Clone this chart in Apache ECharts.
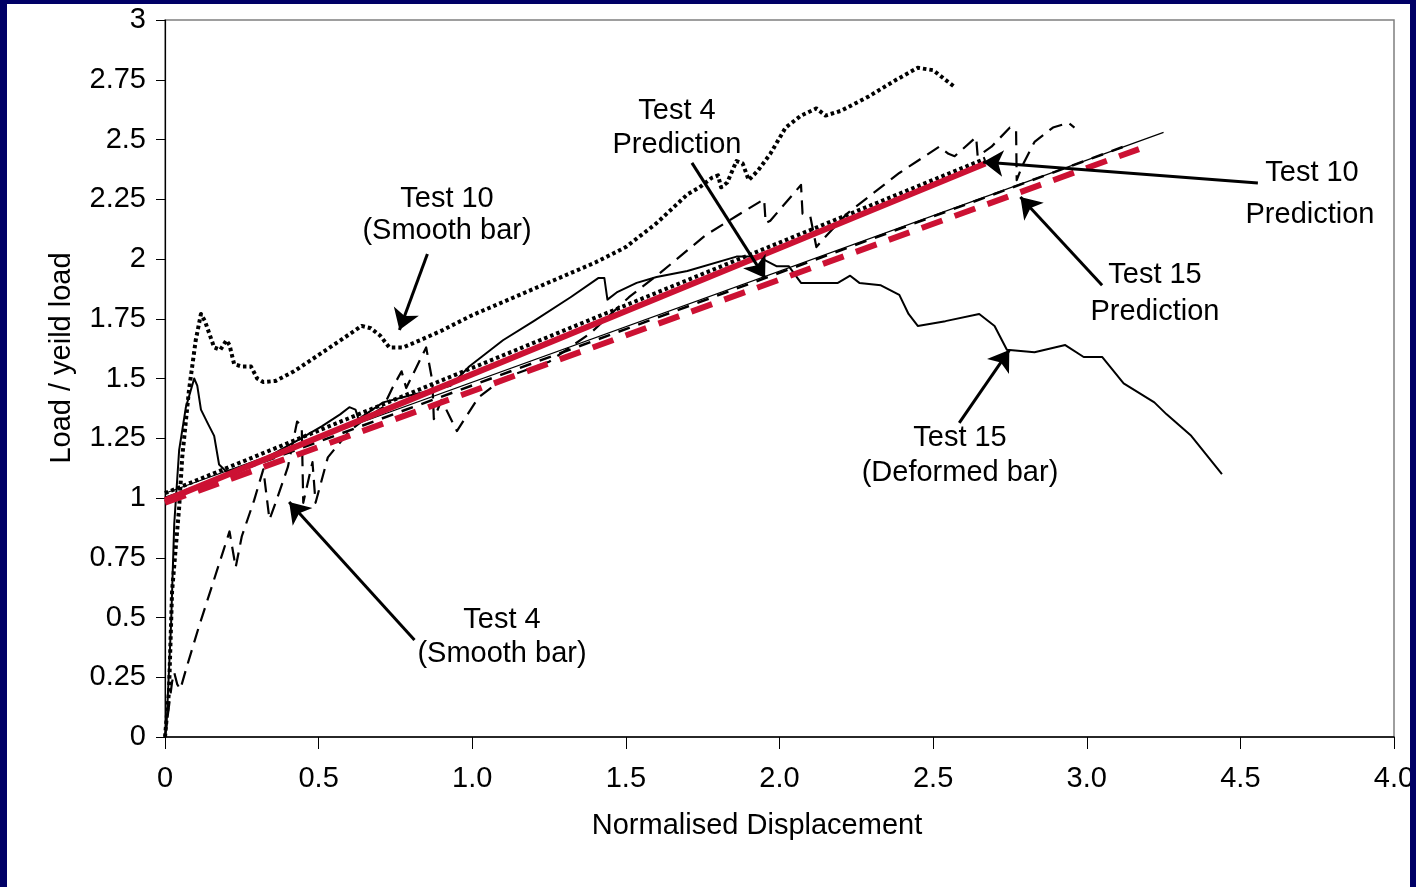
<!DOCTYPE html>
<html>
<head>
<meta charset="utf-8">
<script src="https://cdn.jsdelivr.net/npm/echarts@6/dist/echarts.min.js"></script>
<style>
  html, body { margin: 0; padding: 0; background: #000066; width: 1416px; height: 887px; overflow: hidden; }
  #chart { position: absolute; left: 7px; top: 4px; width: 1403px; height: 883px; background: #ffffff; }
</style>
</head>
<body>
<div id="chart"></div>
<script>
// ---------- data ----------
const xTickLabels = ['0', '0.5', '1.0', '1.5', '2.0', '2.5', '3.0', '4.5', '4.0'];

// Test 10 (Smooth bar) – experimental, dotted
const test10 = [[0,0],[0.013,0.19],[0.023,0.61],[0.046,0.96],[0.056,1.17],[0.078,1.45],[0.1,1.66],[0.117,1.77],[0.13,1.74],
  [0.16,1.63],[0.18,1.62],[0.2,1.66],[0.21,1.64],[0.225,1.56],[0.25,1.55],[0.28,1.55],[0.3,1.5],[0.32,1.485],[0.36,1.49],
  [0.42,1.53],[0.49,1.59],[0.56,1.65],[0.64,1.72],[0.67,1.71],[0.7,1.68],[0.73,1.63],[0.775,1.63],[0.83,1.66],[0.9,1.7],
  [1.0,1.765],[1.2,1.875],[1.4,1.985],[1.5,2.05],[1.6,2.15],[1.7,2.27],[1.74,2.3],[1.78,2.34],[1.8,2.35],[1.81,2.3],
  [1.83,2.32],[1.86,2.41],[1.88,2.4],[1.9,2.33],[1.93,2.37],[1.97,2.44],[2.02,2.55],[2.07,2.6],[2.12,2.63],[2.15,2.6],
  [2.2,2.62],[2.29,2.68],[2.38,2.75],[2.45,2.8],[2.5,2.79],[2.54,2.75],[2.57,2.72]];

// Test 4 (Smooth bar) – experimental, dashed
const test4 = [[0,0],[0.01,0.1],[0.023,0.23],[0.03,0.27],[0.04,0.22],[0.05,0.2],[0.07,0.29],[0.11,0.46],[0.15,0.62],
  [0.19,0.78],[0.21,0.86],[0.23,0.71],[0.25,0.84],[0.29,0.99],[0.32,1.12],[0.34,0.91],[0.36,0.98],[0.4,1.13],[0.43,1.32],
  [0.445,1.3],[0.45,0.98],[0.48,1.15],[0.49,0.98],[0.53,1.17],[0.6,1.28],[0.65,1.33],[0.71,1.38],[0.74,1.46],[0.77,1.53],
  [0.785,1.46],[0.85,1.63],[0.87,1.49],[0.875,1.33],[0.9,1.41],[0.95,1.28],[1.02,1.42],[1.06,1.46],[1.1,1.5],[1.25,1.57],
  [1.385,1.69],[1.51,1.84],[1.61,1.94],[1.76,2.1],[1.86,2.18],[1.95,2.25],[1.955,2.15],[1.97,2.16],[2.07,2.31],[2.075,2.19],
  [2.1,2.18],[2.12,2.05],[2.14,2.08],[2.22,2.19],[2.39,2.36],[2.52,2.47],[2.55,2.44],[2.57,2.43],[2.64,2.51],[2.645,2.43],
  [2.69,2.47],[2.75,2.55],[2.77,2.54],[2.772,2.33],[2.79,2.39],[2.83,2.49],[2.89,2.55],[2.94,2.57],[2.96,2.55]];

// Test 15 (Deformed bar) – experimental, solid
const test15 = [[0,0],[0.005,0.05],[0.02,0.48],[0.03,0.89],[0.046,1.2],[0.068,1.38],[0.095,1.5],[0.105,1.47],[0.117,1.37],
  [0.14,1.31],[0.16,1.26],[0.176,1.14],[0.2,1.11],[0.25,1.13],[0.3,1.15],[0.36,1.19],[0.43,1.24],[0.51,1.3],[0.57,1.35],
  [0.6,1.38],[0.62,1.37],[0.63,1.33],[0.71,1.4],[0.8,1.43],[0.93,1.47],[0.99,1.55],[1.1,1.66],[1.2,1.74],[1.32,1.84],
  [1.41,1.92],[1.43,1.92],[1.44,1.83],[1.47,1.86],[1.535,1.9],[1.6,1.925],[1.7,1.95],[1.86,2.01],[1.93,2.01],[1.99,1.97],
  [2.03,1.97],[2.07,1.9],[2.19,1.9],[2.23,1.93],[2.26,1.9],[2.33,1.89],[2.39,1.85],[2.42,1.77],[2.45,1.72],[2.54,1.74],
  [2.65,1.77],[2.7,1.72],[2.74,1.62],[2.83,1.61],[2.93,1.64],[2.99,1.59],[3.05,1.59],[3.12,1.48],[3.22,1.4],[3.26,1.35],
  [3.34,1.26],[3.44,1.1]];

// Predictions
const predThin = [[0,1.02],[3.25,2.53]];
const predDotted = [[0,1.02],[2.67,2.42]];
const predDashed = [[0,1.0],[3.12,2.47]];
const predRedSolid = [[0,0.99],[2.67,2.4]];
const predRedDashed = [[0,0.98],[3.17,2.46]];

// Annotation arrows (tail -> head, data coordinates)
const arrows = [
  [[0.854,2.021],[0.763,1.703]],
  [[1.715,2.402],[1.953,1.921]],
  [[3.557,2.318],[2.663,2.406]],
  [[3.05,1.89],[2.784,2.259]],
  [[2.585,1.314],[2.748,1.619]],
  [[0.812,0.406],[0.404,0.983]]
];
// Annotation texts (page pixel centres)
const labels = [
  ['Test 10', 447, 199], ['(Smooth bar)', 447, 231],
  ['Test 4', 677, 111], ['Prediction', 677, 145],
  ['Test 10', 1312, 173], ['Prediction', 1310, 215],
  ['Test 15', 1155, 275], ['Prediction', 1155, 312],
  ['Test 15', 960, 438], ['(Deformed bar)', 960, 473],
  ['Test 4', 502, 620], ['(Smooth bar)', 502, 654]
];

// ---------- chart ----------
const FONT = "Arial, 'Liberation Sans', sans-serif";
const FS = 29;
const OX = 7, OY = 4;
const chart = echarts.init(document.getElementById('chart'), null, { renderer: 'canvas' });

function lineSeries(name, data, color, width, type, z) {
  return {
    name, type: 'line', data, showSymbol: false, symbol: 'none', smooth: false,
    lineStyle: { color, width, type, cap: 'butt', join: 'round' },
    z, silent: true, clip: false, animation: false
  };
}

const graphics = labels.map(l => ({
  type: 'text', x: l[1] - OX, y: l[2] - OY, silent: true,
  style: { text: l[0], fill: '#000', font: FS + 'px ' + FONT, textAlign: 'center', textVerticalAlign: 'middle' }
}));
graphics.push({
  type: 'text', x: 757 - OX, y: 826 - OY, silent: true,
  style: { text: 'Normalised Displacement', fill: '#000', font: FS + 'px ' + FONT, textAlign: 'center', textVerticalAlign: 'middle' }
});
graphics.push({
  type: 'text', x: 62 - OX, y: 358 - OY, rotation: Math.PI / 2, silent: true,
  style: { text: 'Load / yeild load', fill: '#000', font: FS + 'px ' + FONT, textAlign: 'center', textVerticalAlign: 'middle' }
});

chart.setOption({
  backgroundColor: '#ffffff',
  animation: false,
  grid: { left: 158, right: 16, top: 16, bottom: 150, containLabel: false, outerBoundsMode: 'none',
    show: true, borderColor: '#7f7f7f', borderWidth: 1.5, backgroundColor: '#ffffff' },
  xAxis: {
    type: 'value', min: 0, max: 4, interval: 0.5,
    axisLine: { show: true, onZero: false, lineStyle: { color: '#000', width: 1.5 } },
    axisTick: { show: true, inside: false, length: 12, lineStyle: { color: '#000', width: 1 } },
    axisLabel: { color: '#000', fontSize: FS, fontFamily: FONT, margin: 27, hideOverlap: false,
      formatter: v => xTickLabels[Math.round(v / 0.5)] },
    splitLine: { show: false }
  },
  yAxis: {
    type: 'value', min: 0, max: 3, interval: 0.25,
    axisLine: { show: true, onZero: false, lineStyle: { color: '#000', width: 1.2 } },
    axisTick: { show: true, inside: false, length: 9, lineStyle: { color: '#000', width: 1 } },
    axisLabel: { color: '#000', fontSize: FS, fontFamily: FONT, margin: 19 },
    splitLine: { show: false }
  },
  graphic: graphics,
  series: [
    lineSeries('Test 15 (Deformed bar)', test15, '#000', 2, 'solid', 3),
    lineSeries('Test 4 (Smooth bar)', test4, '#000', 2.2, [14, 8], 3),
    lineSeries('Test 10 (Smooth bar)', test10, '#000', 4, [3.5, 3], 3),
    lineSeries('Test 4 Prediction', predThin, '#000', 1.2, 'solid', 4),
    lineSeries('Prediction (dotted)', predDotted, '#000', 4, [3.5, 3], 4),
    lineSeries('Prediction (dashed)', predDashed, '#000', 2.5, [12, 9], 4),
    lineSeries('Test 10 Prediction', predRedSolid, '#cc1133', 6, 'solid', 5),
    lineSeries('Test 15 Prediction', predRedDashed, '#cc1133', 6, [22, 13], 5),
    {
      type: 'lines', coordinateSystem: 'cartesian2d', silent: true, z: 6,
      symbol: ['none', 'arrow'], symbolSize: 20,
      lineStyle: { color: '#000', width: 3, opacity: 1, curveness: 0 },
      data: arrows.map(a => ({ coords: a })),
      animation: false
    }
  ]
});
</script>
</body>
</html>
